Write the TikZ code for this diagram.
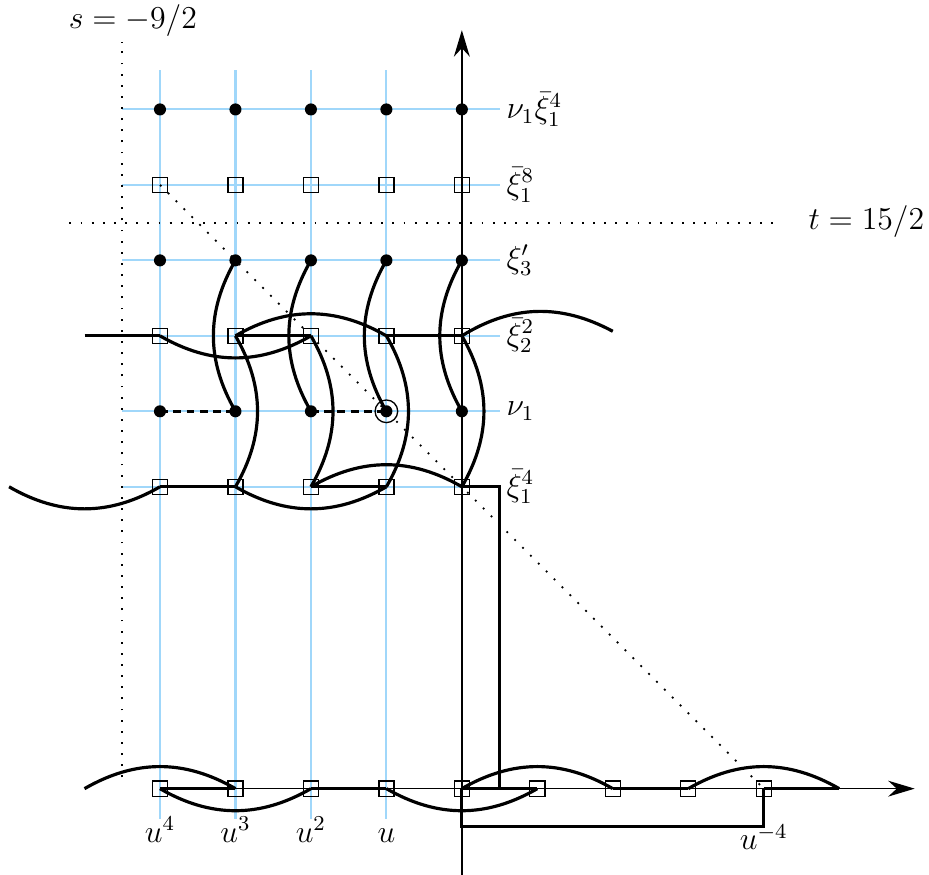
\documentclass[tikz,border=0pt]{standalone}
\usetikzlibrary{arrows.meta}
\definecolor{gridblue}{RGB}{160,215,250}
\begin{document}
\begin{tikzpicture}[
  gridline/.style={gridblue, line width=0.8pt},
  axisline/.style={line width=0.5pt},
  pathline/.style={line width=1.2pt},
  dashline/.style={line width=1.2pt, dash pattern=on 3pt off 2pt},
  sq/.style={draw, rectangle, line width=0.5pt, minimum size=0.2cm, inner sep=0pt},
  dotnode/.style={circle, fill, inner sep=0pt, minimum size=0.16cm},
  lab/.style={font=\large, inner sep=1pt},
  dotline/.style={line width=0.7pt, dash pattern=on 0.7pt off 3.5pt},
  tip/.style={-{Stealth[length=10pt,width=6pt]}}
]
\useasboundingbox (-6.12,-1.14) rectangle (6.19,10.45);

% light blue grid
\foreach \x in {-4,...,-1} \draw[gridline] (\x,-0.4) -- (\x,9.52);
\foreach \y in {4,...,9} \draw[gridline] (-4.5,\y) -- (0.5,\y);

% squares and dots
\foreach \x in {-4,...,0} {
  \node[sq] (q\x r8) at (\x,8) {};
  \node[sq] (q\x r6) at (\x,6) {};
  \node[sq] (q\x r4) at (\x,4) {};
  \node[dotnode] (d\x r9) at (\x,9) {};
  \node[dotnode] (d\x r7) at (\x,7) {};
  \node[dotnode] (d\x r5) at (\x,5) {};
}
\foreach \x in {-4,...,4} \node[sq] (q\x r0) at (\x,0) {};
\node[circle, draw, line width=0.5pt, minimum size=0.3cm, inner sep=0pt] (circ) at (-1,5) {};

% free ends
\coordinate (sTop) at (-4.5,9.9);
\coordinate (sBot) at (-4.5,0.15);
\coordinate (tL) at (-5.2,7.5);
\coordinate (tR) at (4.2,7.5);
\coordinate (yBot) at (0,-1.14);
\coordinate (yTop) at (0,10.05);
\coordinate (xEnd) at (6.0,0);
\coordinate (e0L) at (-5,0);
\coordinate (e0R) at (5,0);
\coordinate (e4L) at (-6,4);
\coordinate (e6L) at (-5,6);
\coordinate (e6R) at (2,6.06);
\coordinate (v4) at (0.5,4);
\coordinate (v0) at (0.5,0);
\coordinate (b0) at (0,-0.5);
\coordinate (b4) at (4,-0.5);

% dotted guides
\draw[dotline] (sBot) -- (sTop);
\draw[dotline] (tL) -- (tR);
\draw[dotline] (q-4r8.center) -- (q4r0.center);

% axes
\draw[axisline, tip] (q-4r0.center) -- (xEnd);
\draw[axisline, tip] (yBot) -- (yTop);

% row 0
\draw[pathline] (q-4r0.center) -- (q-3r0.center);
\draw[pathline] (q-2r0.center) -- (q-1r0.center);
\draw[pathline] (q0r0.center) -- (q1r0.center);
\draw[pathline] (q2r0.center) -- (q3r0.center);
\draw[pathline] (q4r0.center) -- (e0R);
\draw[pathline] (e0L) to[bend left=30] (q-3r0.center);
\draw[pathline] (q-4r0.center) to[bend right=30] (q-2r0.center);
\draw[pathline] (q-1r0.center) to[bend right=30] (q1r0.center);
\draw[pathline] (q0r0.center) to[bend left=30] (q2r0.center);
\draw[pathline] (q3r0.center) to[bend left=30] (e0R);
\draw[pathline] (q0r0.center) -- (b0) -- (b4) -- (q4r0.center);
\draw[pathline] (q0r4.center) -- (v4) -- (v0);

% row 4
\draw[pathline] (e4L) to[bend right=30] (q-4r4.center);
\draw[pathline] (q-4r4.center) -- (q-3r4.center);
\draw[pathline] (q-3r4.center) to[bend right=30] (q-1r4.center);
\draw[pathline] (q-2r4.center) -- (q-1r4.center);
\draw[pathline] (q-2r4.center) to[bend left=30] (q0r4.center);

% row 6
\draw[pathline] (e6L) -- (q-4r6.center);
\draw[pathline] (q-4r6.center) to[bend right=30] (q-2r6.center);
\draw[pathline] (q-3r6.center) -- (q-2r6.center);
\draw[pathline] (q-3r6.center) to[bend left=30] (q-1r6.center);
\draw[pathline] (q-1r6.center) -- (q0r6.center);
\draw[pathline] (q0r6.center) to[bend left=30] (e6R);

% vertical arcs
\foreach \x in {-3,...,0} {
  \draw[pathline] (q\x r6.center) to[bend left=30] (q\x r4.center);
  \draw[pathline] (d\x r7.center) to[bend right=30] (d\x r5.center);
}

% dashed
\draw[dashline] (d-4r5.center) -- (d-3r5.center);
\draw[dashline] (d-2r5.center) -- (d-1r5.center);

% labels
\node[lab, anchor=west] (l9) at (0.55,9) {$\nu_1\bar\xi_1^4$};
\node[lab, anchor=west] (l8) at (0.55,8) {$\bar\xi_1^8$};
\node[lab, anchor=west] (l7) at (0.55,7) {$\xi'_3$};
\node[lab, anchor=west] (l6) at (0.55,6) {$\bar\xi_2^2$};
\node[lab, anchor=west] (l5) at (0.55,5) {$\nu_1$};
\node[lab, anchor=west] (l4) at (0.55,4) {$\bar\xi_1^4$};
\node[lab, anchor=base] (u4) at (-4,-0.71) {$u^4$};
\node[lab, anchor=base] (u3) at (-3,-0.71) {$u^3$};
\node[lab, anchor=base] (u2) at (-2,-0.71) {$u^2$};
\node[lab, anchor=base] (u1) at (-1,-0.71) {$u$};
\node[lab, anchor=base] (um4) at (4,-0.81) {$u^{-4}$};
\node[lab] (slab) at (-4.36,10.18) {$s=-9/2$};
\node[lab] (tlab) at (5.36,7.51) {$t=15/2$};
\end{tikzpicture}
\end{document}
